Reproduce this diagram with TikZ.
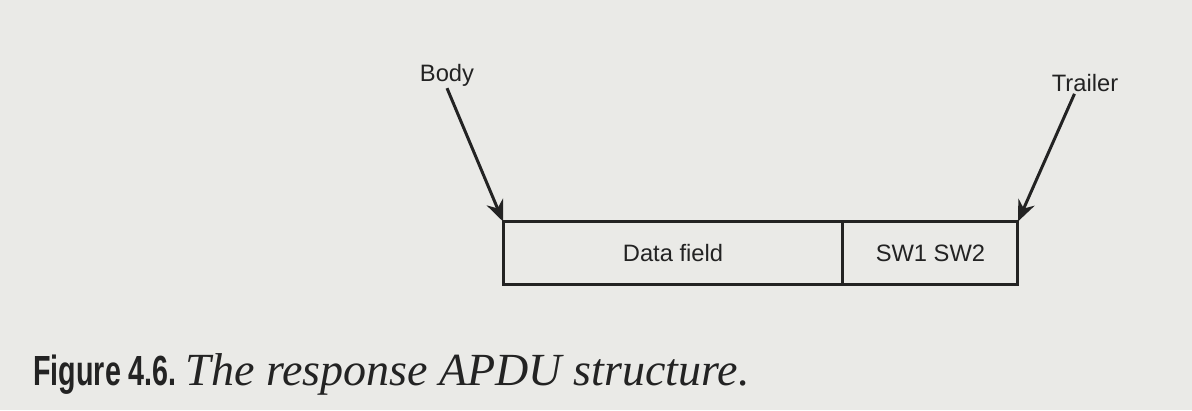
\documentclass[tikz,border=0pt]{standalone}
\usepackage{fontspec}
\setmainfont{Liberation Serif}
\setsansfont{Liberation Sans}
\usetikzlibrary{positioning,arrows.meta}
\definecolor{paper}{RGB}{234,234,231}
\definecolor{ink}{RGB}{35,35,35}
\begin{document}
\begin{tikzpicture}[x=0.02cm,y=-0.02cm,
    lbl/.style={font=\sffamily\fontsize{13.5}{16}\selectfont,text=ink,inner sep=1pt},
    field/.style={draw=ink,line width=1.7pt,minimum height=1.26cm,inner sep=0pt,outer sep=0pt,
      font=\sffamily\fontsize{13.5}{16}\selectfont,text=ink},
    arr/.style={draw=ink,line width=1.7pt,-{Stealth[length=12pt,width=10pt]}}]
  \fill[paper] (0,0) rectangle (1192,410);
  \useasboundingbox (0,0) rectangle (1192,410);
  \node[field,minimum width=6.8cm] (data) at (673,253) {Data field};
  \node[field,minimum width=3.5cm,right=0pt of data] (sw) {SW1 SW2};
  \node[lbl] (body) at (447,75) {Body};
  \node[lbl] (trailer) at (1085,83) {Trailer};
  \draw[arr] (body.south) -- (data.north west);
  \draw[arr] ([xshift=-6pt]trailer.south) -- (sw.north east);
  \node[anchor=base west,inner sep=0pt,text=ink] (caption) at (33,385)
    {\scalebox{0.68}[1]{\sffamily\bfseries\fontsize{24}{28}\selectfont Figure 4.6.}\hspace{5pt}{\itshape\fontsize{26.2}{30}\selectfont The response APDU structure.}};
\end{tikzpicture}
\end{document}
